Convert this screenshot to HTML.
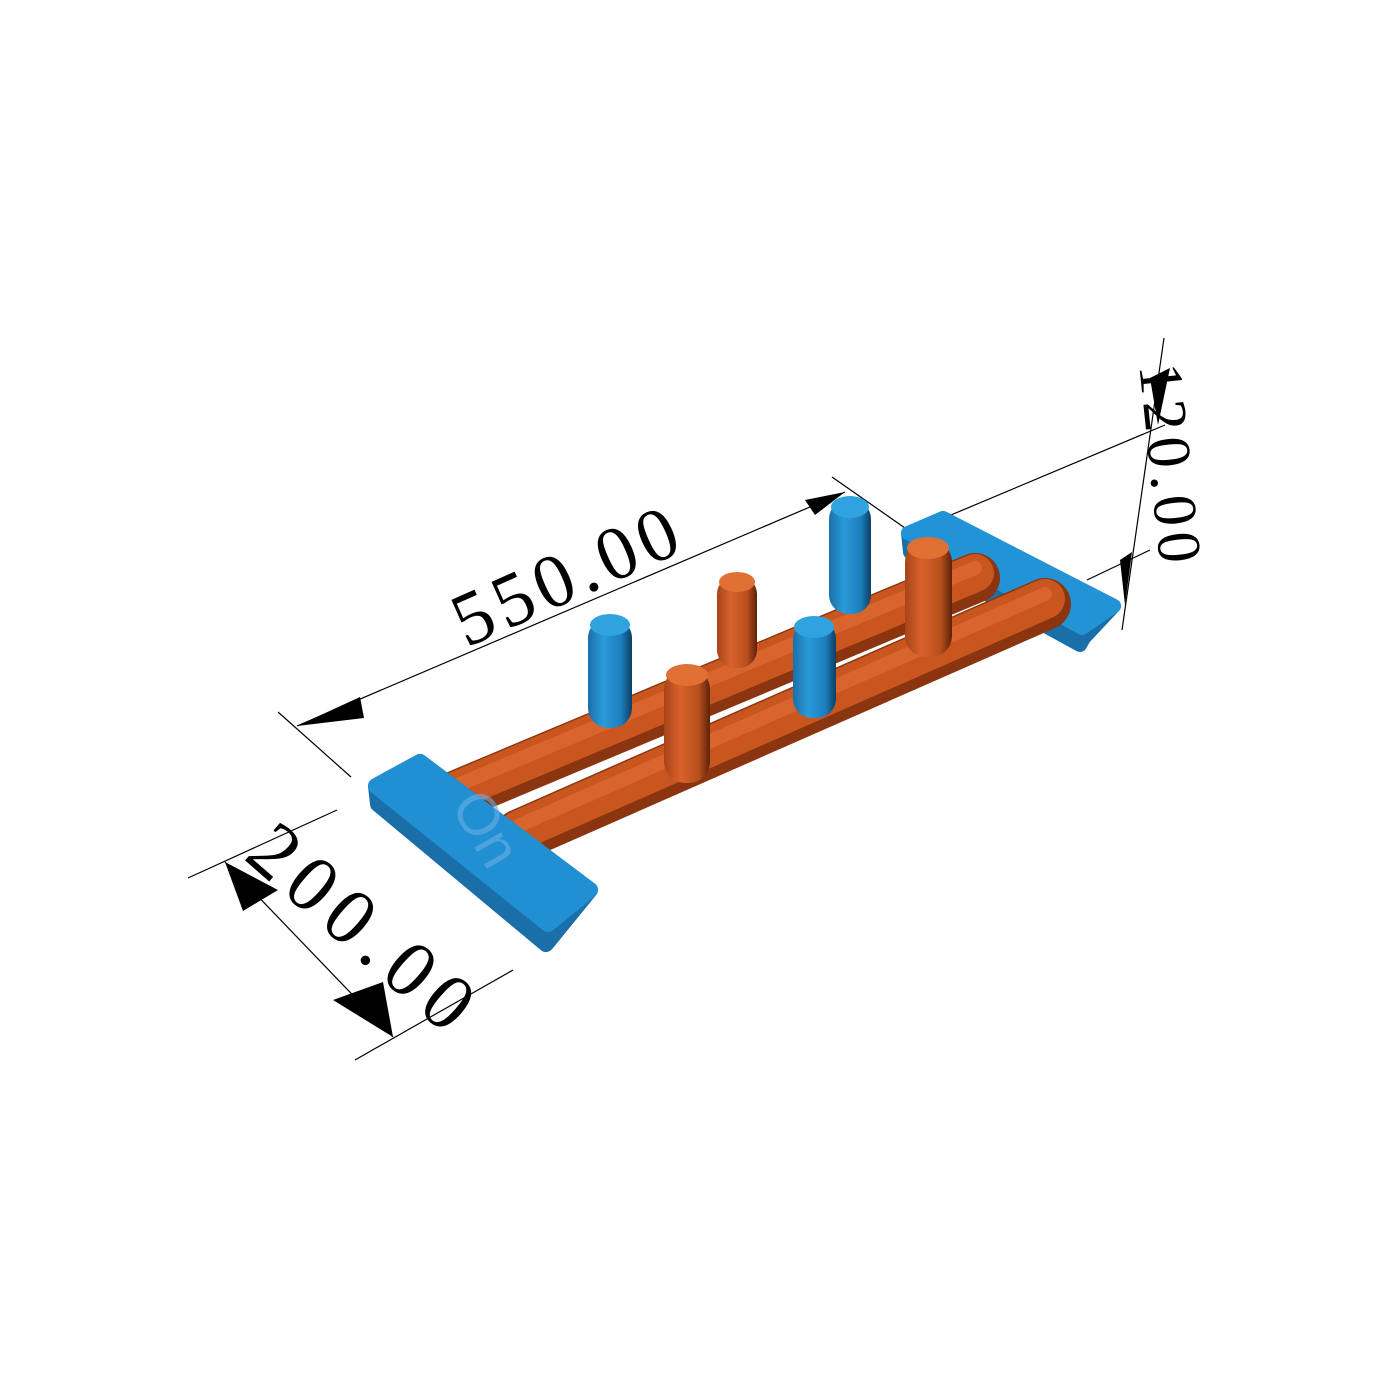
<!DOCTYPE html>
<html><head><meta charset="utf-8"><style>
html,body{margin:0;padding:0;background:#fff;}
svg{display:block}
text{font-family:"Liberation Serif",serif;fill:#000}
</style></head><body>
<svg width="1400" height="1400" viewBox="0 0 1400 1400" xmlns="http://www.w3.org/2000/svg">
<defs>
<linearGradient id="pegB" x1="0" x2="1" y1="0" y2="0">
<stop offset="0" stop-color="#1a6fa8"/><stop offset="0.35" stop-color="#2a9ad8"/><stop offset="0.75" stop-color="#1c7fbd"/><stop offset="1" stop-color="#0d3f63"/></linearGradient>
<linearGradient id="pegO" x1="0" x2="1" y1="0" y2="0">
<stop offset="0" stop-color="#a8441a"/><stop offset="0.35" stop-color="#d8622a"/><stop offset="0.75" stop-color="#b84f1e"/><stop offset="1" stop-color="#5e2208"/></linearGradient>
</defs>

<!-- dimension lines -->
<g stroke="#000" stroke-width="1.2" fill="none">
<line x1="278" y1="712" x2="351" y2="777"/>
<line x1="832" y1="477" x2="915" y2="535"/>
<line x1="297" y1="726" x2="845" y2="492"/>
<line x1="188" y1="878" x2="337" y2="810"/>
<line x1="355" y1="1060" x2="513" y2="970"/>
<line x1="225" y1="862" x2="393" y2="1037"/>
<line x1="920" y1="528" x2="1165" y2="425"/>
<line x1="1087" y1="580" x2="1150" y2="550"/>
<line x1="1164" y1="338" x2="1122" y2="630"/>
</g>
<g fill="#000">
<polygon points="297,726 360,697 364,718"/>
<polygon points="845,492 805,500 815,515"/>
<polygon points="225,862 243,911 278,890"/>
<polygon points="393,1037 333,1000 383,982"/>
<polygon points="1158,425 1150,378 1170,368"/>
<polygon points="1125,605 1120,560 1132,552"/>
</g>
<text x="0" y="0" font-size="76" letter-spacing="6" text-anchor="middle" transform="translate(578,598) rotate(-24)">550.00</text>
<text x="0" y="0" font-size="80" letter-spacing="10" text-anchor="middle" transform="translate(348,950) rotate(41)">200.00</text>
<text x="0" y="0" font-size="62" letter-spacing="6" text-anchor="middle" transform="translate(1150,468) rotate(84)">120.00</text>

<!-- right pad -->
<g stroke-linejoin="round" stroke-width="14">
<polygon points="908,533 943,518 1114,606 1084,638 1080,645 910,552" fill="#1a6fa8" stroke="#1a6fa8"/>
<polygon points="908,533 943,518 1114,606 1082,628" fill="#2294d6" stroke="#2294d6"/>
</g>

<!-- back rod -->
<line x1="455" y1="796" x2="975" y2="578" stroke="#8a3510" stroke-width="50" stroke-linecap="round"/>
<line x1="455" y1="791" x2="975" y2="573" stroke="#c9561f" stroke-width="38" stroke-linecap="round"/>
<line x1="455" y1="786" x2="975" y2="568" stroke="#d8652c" stroke-width="14" stroke-linecap="round"/>

<!-- back pegs -->
<g>
<rect x="588" y="618" width="44" height="110" rx="20" fill="url(#pegB)"/>
<ellipse cx="610" cy="625" rx="20" ry="11" fill="#2fa3e0"/>
<rect x="717" y="576" width="40" height="92" rx="18" fill="url(#pegO)"/>
<ellipse cx="737" cy="582" rx="18" ry="10" fill="#e07034"/>
<rect x="829" y="500" width="42" height="114" rx="19" fill="url(#pegB)"/>
<ellipse cx="850" cy="507" rx="19" ry="11" fill="#2fa3e0"/>
</g>

<!-- front rod -->
<line x1="520" y1="835" x2="1045" y2="604" stroke="#8a3510" stroke-width="52" stroke-linecap="round"/>
<line x1="520" y1="830" x2="1045" y2="599" stroke="#c9561f" stroke-width="40" stroke-linecap="round"/>
<line x1="520" y1="825" x2="1045" y2="594" stroke="#d8652c" stroke-width="14" stroke-linecap="round"/>

<!-- front pegs -->
<g>
<rect x="664" y="668" width="46" height="115" rx="21" fill="url(#pegO)"/>
<ellipse cx="687" cy="675" rx="21" ry="11" fill="#e07034"/>
<rect x="793" y="620" width="43" height="98" rx="19" fill="url(#pegB)"/>
<ellipse cx="814" cy="627" rx="20" ry="11" fill="#2fa3e0"/>
<rect x="905" y="541" width="47" height="116" rx="21" fill="url(#pegO)"/>
<ellipse cx="928" cy="548" rx="21" ry="11" fill="#e07034"/>
</g>

<!-- left pad -->
<g stroke-linejoin="round" stroke-width="16">
<polygon points="376,786 420,762 590,890 546,944 378,804" fill="#1a6fa8" stroke="#1a6fa8"/>
<polygon points="376,786 420,762 590,890 548,924" fill="#2190d2" stroke="#2190d2"/>
</g>
<text x="0" y="0" font-size="58" style="font-family:'Liberation Sans',sans-serif;fill:#6aaee6;opacity:0.6" transform="translate(450,805) rotate(60)">On</text>
</svg>
</body></html>
